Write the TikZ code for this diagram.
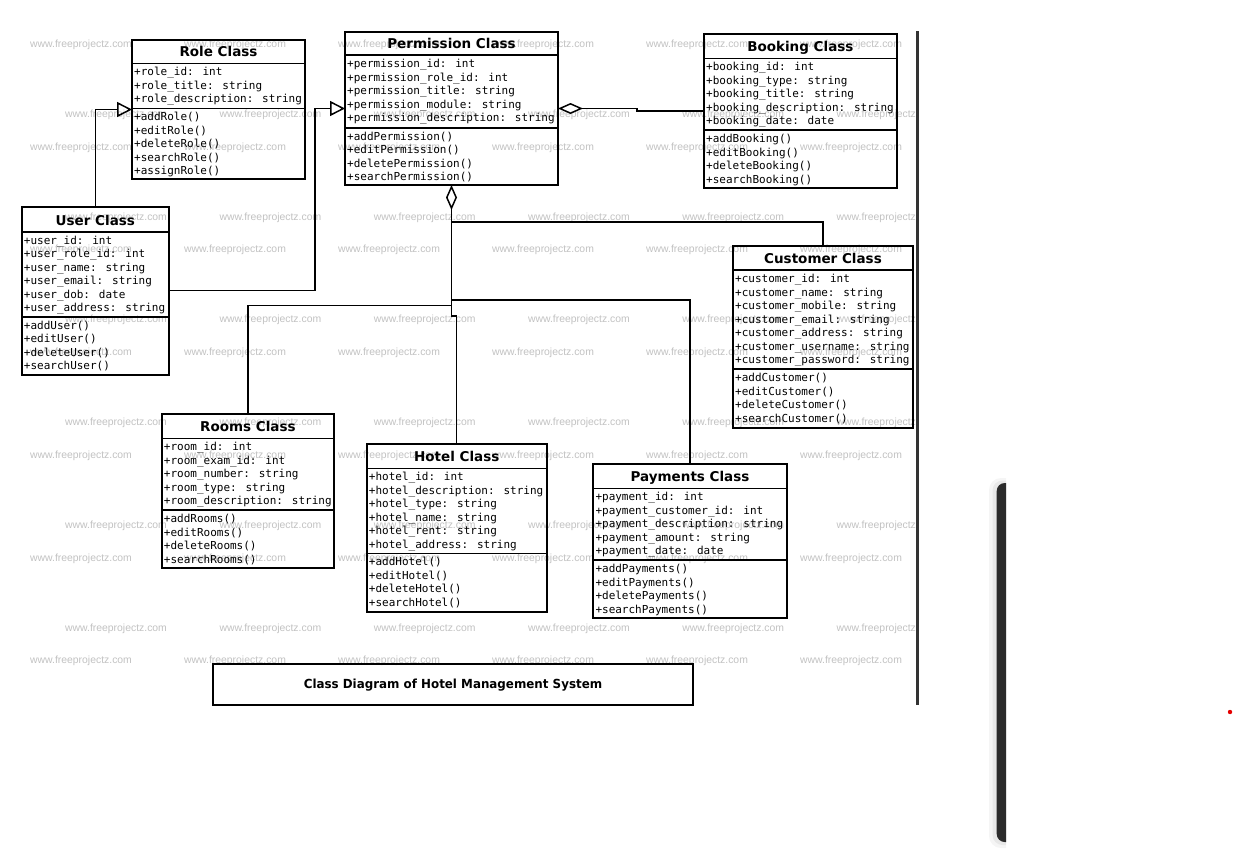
\documentclass[tikz,border=0pt]{standalone}
\usepackage{fontspec}
\setmainfont{DejaVu Sans}
\newfontfamily\monof{DejaVu Sans Mono}
\newfontfamily\wmf{Liberation Sans}
\newfontfamily\capf{DejaVu Sans}[FakeStretch=0.95]
\usetikzlibrary{arrows.meta,calc}

\tikzset{
  cls/.style={draw=black, line width=1.8pt, inner sep=0pt, outer sep=0pt},
  sepline/.style={line width=1.6pt},
  ttl/.style={font=\bfseries\fontsize{13.5}{16}\selectfont, inner sep=0pt, anchor=base},
  mem/.style={font=\monof\fontsize{11}{13.5}\selectfont, inner sep=0pt, anchor=base west},
  wm/.style={font=\wmf\fontsize{10.4}{12}\selectfont, text=black!24, inner sep=0pt, anchor=base west},
  conn/.style={line width=1.5pt},
  gen/.style={conn, -{Triangle[open, length=15pt, width=15pt, line width=1.5pt]}},
  agg/.style={conn, {Diamond[open, length=25pt, width=11pt, line width=1.5pt]}-},
}

% #1 name, #2 left, #3 top, #4 right, #5 bottom, #6 title line, #7 separator, #8 title
\newcommand\umlclass[8]{%
  \node[cls, minimum width={(#4)-(#2)}, minimum height={(#5)-(#3)}, anchor=north west] (#1) at (#2,#3) {};
  \draw[sepline] (#2,#6) -- (#4,#6);
  \draw[sepline] (#2,#7) -- (#4,#7);
  \node[ttl] (#1-title) at ({((#2)+(#4))/2},{(#6)-6.7}) {#8};
}
% #1 name prefix, #2 left, #3 line above, #4 list
\newcommand\members[4]{%
  \foreach \m [count=\i] in {#4} {\node[mem] (#1\i) at ({(#2)+2},{(#3)+12.5+(\i-1)*13.5}) {\m};}
}

\begin{document}
\begin{tikzpicture}[x=1pt, y=-1pt]
\fill[white] (0,0) rectangle (1233,852);
\useasboundingbox (0,0) rectangle (1233,852);

% watermarks
\begin{scope}
  \clip (0,0) rectangle (915,705);
  \foreach \r in {0,...,6} {
    \foreach \c in {0,...,5} {
      \node[wm] (wa-\r-\c) at ({30+154*\c},{47.5+102.7*\r}) {www.freeprojectz.com};
    }
  }
  \foreach \r in {0,...,5} {
    \foreach \c in {0,...,5} {
      \node[wm] (wb-\r-\c) at ({65+154.3*\c},{117.5+102.7*\r}) {www.freeprojectz.com};
    }
  }
\end{scope}

% classes
\umlclass{role}{132}{40}{305}{179}{63.3}{108.3}{Role Class}
\members{role-a}{132}{63.3}{+role\_id: int,+role\_title: string,+role\_description: string}
\members{role-m}{132}{108.3}{+addRole(),+editRole(),+deleteRole(),+searchRole(),+assignRole()}

\umlclass{perm}{345}{32}{558}{185}{55}{127.7}{Permission Class}
\members{perm-a}{345}{55}{+permission\_id: int,+permission\_role\_id: int,+permission\_title: string,+permission\_module: string,+permission\_description: string}
\members{perm-m}{345}{127.7}{+addPermission(),+editPermission(),+deletePermission(),+searchPermission()}

\umlclass{booking}{704}{34}{896.7}{188}{58.3}{130}{Booking Class}
\members{booking-a}{704}{58.3}{+booking\_id: int,+booking\_type: string,+booking\_title: string,+booking\_description: string,+booking\_date: date}
\members{booking-m}{704}{130}{+addBooking(),+editBooking(),+deleteBooking(),+searchBooking()}

\umlclass{user}{21.7}{207.3}{169}{375}{231.7}{316.7}{User Class}
\members{user-a}{21.7}{231.7}{+user\_id: int,+user\_role\_id: int,+user\_name: string,+user\_email: string,+user\_dob: date,+user\_address: string}
\members{user-m}{21.7}{316.7}{+addUser(),+editUser(),+deleteUser(),+searchUser()}

\umlclass{customer}{733}{246}{913}{428}{270}{369}{Customer Class}
\members{customer-a}{733}{270}{+customer\_id: int,+customer\_name: string,+customer\_mobile: string,+customer\_email: string,+customer\_address: string,+customer\_username: string,+customer\_password: string}
\members{customer-m}{733}{369}{+addCustomer(),+editCustomer(),+deleteCustomer(),+searchCustomer()}

\umlclass{rooms}{161.7}{414.3}{334}{568}{438.3}{510}{Rooms Class}
\members{rooms-a}{161.7}{438.3}{+room\_id: int,+room\_exam\_id: int,+room\_number: string,+room\_type: string,+room\_description: string}
\members{rooms-m}{161.7}{510}{+addRooms(),+editRooms(),+deleteRooms(),+searchRooms()}

\umlclass{hotel}{366.7}{444.3}{546.7}{611.7}{468.3}{553.3}{Hotel Class}
\members{hotel-a}{366.7}{468.3}{+hotel\_id: int,+hotel\_description: string,+hotel\_type: string,+hotel\_name: string,+hotel\_rent: string,+hotel\_address: string}
\members{hotel-m}{366.7}{553.3}{+addHotel(),+editHotel(),+deleteHotel(),+searchHotel()}

\umlclass{payments}{593.3}{464}{786.7}{618.3}{488.3}{560}{Payments Class}
\members{payments-a}{593.3}{488.3}{+payment\_id: int,+payment\_customer\_id: int,+payment\_description: string,+payment\_amount: string,+payment\_date: date}
\members{payments-m}{593.3}{560}{+addPayments(),+editPayments(),+deletePayments(),+searchPayments()}

% caption
\node[cls, minimum width=479.4, minimum height=40.7, anchor=north west,
      font=\capf\bfseries\fontsize{12.5}{15}\selectfont] (caption) at (213.3,664.3)
      {Class Diagram of Hotel Management System};

% helper coordinates
\coordinate (k1) at (315,290.7);
\coordinate (k2) at (637,109);
\coordinate (hc) at (0,222);
\coordinate (hp) at (0,300);
\coordinate (hr) at (0,305.7);
\coordinate (hh) at (0,316);

% generalizations
\draw[gen] (user.north) |- (role.west);
\draw[gen] (user.east |- k1) -- (k1) |- (perm.west);

% aggregations
\draw[agg] (perm.east) -- (perm.east -| k2) -- (k2 |- booking.west) -- (booking.west);
\draw[agg] (perm.south) -- (perm.south |- hc);
\draw[conn] (perm.south |- hc) -| (customer.north);
\draw[conn] (perm.south |- hc) -- (perm.south |- hh) -- (hotel.north |- hh) -- (hotel.north);
\draw[conn] (perm.south |- hr) -| (rooms.north);
\draw[conn] (perm.south |- hp) -| (payments.north);

% right border line of the screenshot
\fill[black!80] (915.5,31) rectangle (919,705);

% dark bar with soft shadow
\begin{scope}
  \clip (970,460) rectangle (1006,852);
  \fill[black, opacity=0.04, rounded corners=12pt] (989,478) rectangle (1030,848);
  \fill[black, opacity=0.05, rounded corners=10pt] (992.5,480.5) rectangle (1030,845);
  \fill[black!83, rounded corners=8pt] (996.7,483) rectangle (1030,842);
\end{scope}

% red dot
\fill[red!90!black] (1230,712) circle (2.2);
\end{tikzpicture}
\end{document}
